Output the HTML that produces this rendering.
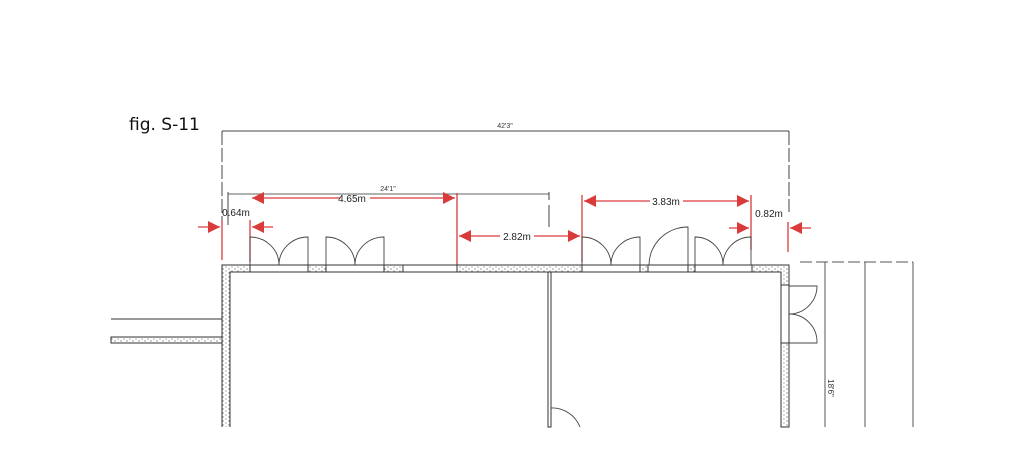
<!DOCTYPE html>
<html><head><meta charset="utf-8"><style>
html,body{margin:0;padding:0;background:#fff;}
svg{display:block;}
</style></head><body>
<svg width="1024" height="458" viewBox="0 0 1024 458" xmlns="http://www.w3.org/2000/svg">
<defs>
<pattern id="h" width="6" height="4" patternUnits="userSpaceOnUse">
<rect width="6" height="4" fill="#fff"/>
<circle cx="1" cy="1" r="0.6" fill="#555"/><circle cx="4" cy="3" r="0.6" fill="#777"/>
</pattern>
<marker id="ar" viewBox="0 0 10 10" refX="10" refY="5" markerWidth="14" markerHeight="12" markerUnits="userSpaceOnUse" orient="auto"><path d="M0,0 L10,5 L0,10z" fill="#d93a3a"/></marker>
</defs>
<text x="129" y="130" font-family="DejaVu Sans, Liberation Sans, sans-serif" font-size="17" fill="#111">fig. S-11</text>

<g stroke="#444" stroke-width="1" fill="none">
<line x1="222" y1="131" x2="789" y2="131"/>
<line x1="222" y1="131" x2="222" y2="226" stroke-dasharray="14,3"/>
<line x1="789" y1="131" x2="789" y2="212" stroke-dasharray="14,3"/>
<line x1="228" y1="194" x2="549" y2="194" stroke="#666"/>
<line x1="228" y1="192" x2="228" y2="225"/>
<line x1="549" y1="192" x2="549" y2="200"/>
<line x1="549" y1="205" x2="549" y2="227"/>
</g>
<text x="505" y="128" font-family="Liberation Sans, sans-serif" font-size="7" text-anchor="middle" fill="#333">42'3"</text>
<text x="388" y="191" font-family="Liberation Sans, sans-serif" font-size="7" text-anchor="middle" fill="#333">24'1"</text>

<g stroke="#d93a3a" stroke-width="1.3" fill="none">
<line x1="222" y1="220" x2="222" y2="260"/>
<line x1="250" y1="220" x2="250" y2="262"/>
<line x1="457" y1="193" x2="457" y2="265"/>
<line x1="582" y1="195" x2="582" y2="262"/>
<line x1="751" y1="195" x2="751" y2="250"/>
<line x1="788" y1="222" x2="788" y2="252"/>
<line x1="340" y1="198" x2="252" y2="198" marker-end="url(#ar)"/>
<line x1="370" y1="198" x2="455" y2="198" marker-end="url(#ar)"/>
<line x1="500" y1="236" x2="459" y2="236" marker-end="url(#ar)"/>
<line x1="534" y1="236" x2="580" y2="236" marker-end="url(#ar)"/>
<line x1="650" y1="201" x2="584" y2="201" marker-end="url(#ar)"/>
<line x1="683" y1="201" x2="749" y2="201" marker-end="url(#ar)"/>
<line x1="198" y1="227" x2="220" y2="227" marker-end="url(#ar)"/>
<line x1="273" y1="227" x2="252" y2="227" marker-end="url(#ar)"/>
<line x1="729" y1="228" x2="749" y2="228" marker-end="url(#ar)"/>
<line x1="811" y1="228" x2="790" y2="228" marker-end="url(#ar)"/>
</g>
<g font-family="Liberation Sans, sans-serif" font-size="10" fill="#222" text-anchor="middle">
<text x="352" y="202">4.65m</text>
<text x="517" y="240">2.82m</text>
<text x="666" y="205">3.83m</text>
<text x="236" y="216">0.64m</text>
<text x="769" y="217">0.82m</text>
</g>

<g stroke="#333" stroke-width="1">
<path d="M222,427 V265 H789 V427 H781 V272 H230 V427" fill="url(#h)"/>
<rect x="111" y="337" width="111" height="6" fill="url(#h)"/>
<line x1="111" y1="319" x2="222" y2="319"/>
<rect x="548" y="272" width="3" height="155" fill="#fff"/>
<rect x="250" y="265" width="58" height="7" fill="#fff"/>
<rect x="326" y="265" width="58" height="7" fill="#fff"/>
<rect x="403" y="265" width="54" height="7" fill="#fff"/>
<rect x="582" y="265" width="58" height="7" fill="#fff"/>
<rect x="648" y="265" width="40" height="7" fill="#fff"/>
<rect x="695" y="265" width="57" height="7" fill="#fff"/>
<rect x="781" y="285" width="8" height="58" fill="#fff"/>
</g>
<g stroke="#444" stroke-width="0.9" fill="none">
<path d="M250,265 V237 A29,28 0 0 1 279,265"/>
<path d="M308,265 V237 A29,28 0 0 0 279,265"/>
<path d="M326,265 V237 A29,28 0 0 1 355,265"/>
<path d="M384,265 V237 A29,28 0 0 0 355,265"/>
<path d="M582,265 V237 A29,28 0 0 1 611,265"/>
<path d="M640,265 V237 A29,28 0 0 0 611,265"/>
<path d="M688,265 V227 A39,38 0 0 0 649,265"/>
<path d="M695,265 V237 A28,28 0 0 1 723,265"/>
<path d="M751,265 V237 A28,28 0 0 0 723,265"/>
<path d="M789,286 H817 A28,28 0 0 1 789,314"/>
<path d="M789,343 H817 A28,28 0 0 0 789,314"/>
<path d="M551,408 A30,30 0 0 1 580,427"/>
</g>

<g stroke="#555" stroke-width="1" fill="none">
<line x1="800" y1="262" x2="913" y2="262" stroke-dasharray="12,4"/>
<line x1="825" y1="262" x2="825" y2="427"/>
<line x1="865" y1="262" x2="865" y2="427"/>
<line x1="913" y1="262" x2="913" y2="427"/>
</g>
<text transform="translate(828,388) rotate(90)" font-family="Liberation Sans, sans-serif" font-size="8" fill="#333" text-anchor="middle">18'6"</text>
</svg>
</body></html>
